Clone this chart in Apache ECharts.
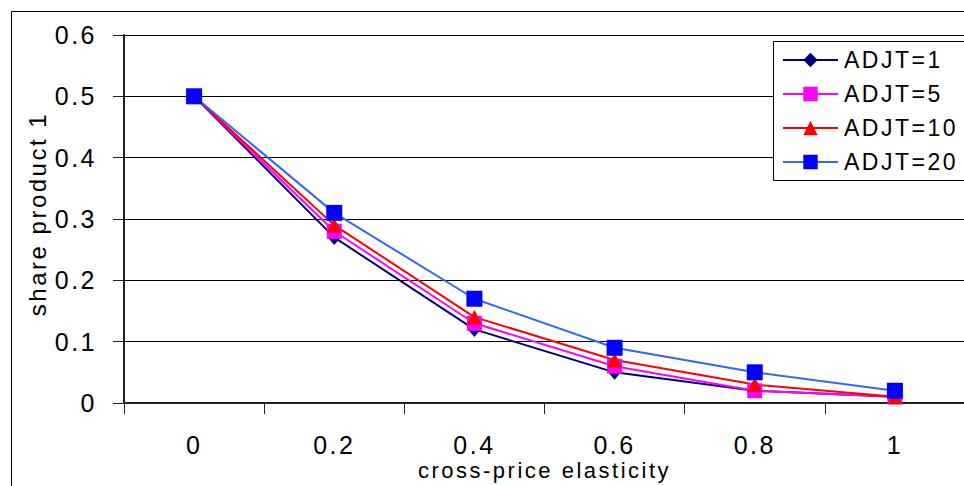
<!DOCTYPE html>
<html>
<head>
<meta charset="utf-8">
<script src="https://cdn.jsdelivr.net/npm/echarts@6/dist/echarts.min.js"></script>
<style>
  html, body { margin: 0; padding: 0; background: #fff; overflow: hidden; }
  #chart { width: 964px; height: 486px; }
  /* spread-out lettering of the spreadsheet-style labels */
  #chart text { letter-spacing: 2.5px; }
</style>
</head>
<body>
<div id="chart"></div>
<script>
// Cross-price elasticity values on the category axis
const elasticity = ['0', '0.2', '0.4', '0.6', '0.8', '1'];

// Share of product 1 for each adjustment setting
const adjt1  = [0.5, 0.27, 0.12, 0.05, 0.02, 0.01];
const adjt5  = [0.5, 0.28, 0.13, 0.06, 0.02, 0.01];
const adjt10 = [0.5, 0.29, 0.14, 0.07, 0.03, 0.01];
const adjt20 = [0.5, 0.31, 0.17, 0.09, 0.05, 0.02];

const seriesNames = ['ADJT=1', 'ADJT=5', 'ADJT=10', 'ADJT=20'];

const FONT = "'Liberation Sans', Arial, sans-serif";

const chart = echarts.init(document.getElementById('chart'), null, { renderer: 'svg' });

function makeSeries(name, data, symbol, size, lineColor, markColor) {
  return {
    name: name,
    type: 'line',
    data: data,
    symbol: symbol,
    symbolSize: size,
    showAllSymbol: true,
    lineStyle: { color: lineColor, width: 2 },
    itemStyle: { color: markColor },
    emphasis: { disabled: true },
    animation: false
  };
}

chart.setOption({
  backgroundColor: '#ffffff',
  animation: false,
  graphic: {
    elements: [
      {
        // outer chart frame: left and top sides, the rest runs off the page
        type: 'polyline',
        shape: { points: [[11.5, 1000], [11.5, 11.5], [1100, 11.5]] },
        style: { fill: null, stroke: '#000', lineWidth: 1 },
        silent: true,
        z: -10
      },
      {
        // legend panel background
        type: 'rect',
        shape: { x: 773.5, y: 41.5, width: 300, height: 139 },
        style: { fill: '#ffffff', stroke: null },
        silent: true,
        z: 3
      },
      {
        // legend panel outline, open to the right edge
        type: 'polyline',
        shape: { points: [[1100, 41.5], [773.5, 41.5], [773.5, 180.5], [1100, 180.5]] },
        style: { fill: null, stroke: '#000', lineWidth: 1 },
        silent: true,
        z: 3
      }
    ]
  },
  grid: { left: 124, top: 35, right: -1, bottom: 83, outerBoundsMode: 'none', containLabel: false },
  legend: {
    orient: 'vertical',
    left: 773,
    top: 42,
    padding: [6, 10, 6, 9],
    itemGap: 10,
    itemWidth: 55,
    itemHeight: 18,
    z: 5,
    borderWidth: 0,
    backgroundColor: 'transparent',
    textStyle: { fontFamily: FONT, fontSize: 23, color: '#000', lineHeight: 24, padding: [0, 0, 0, 1] },
    data: seriesNames
  },
  xAxis: {
    type: 'category',
    data: elasticity,
    boundaryGap: true,
    name: 'cross-price elasticity',
    nameLocation: 'middle',
    nameGap: 57,
    nameMoveOverlap: false,
    nameTextStyle: { fontFamily: FONT, fontSize: 22, color: '#000', lineHeight: 20 },
    axisLine: { show: true, lineStyle: { color: '#222', width: 2 } },
    axisTick: { show: true, length: 11, lineStyle: { color: '#222', width: 1 } },
    axisLabel: { fontFamily: FONT, fontSize: 25, color: '#000', margin: 31, lineHeight: 22 },
    splitLine: { show: false }
  },
  yAxis: {
    type: 'value',
    min: 0,
    max: 0.6,
    interval: 0.1,
    name: 'share product 1',
    nameLocation: 'middle',
    nameGap: 75,
    nameMoveOverlap: false,
    nameTextStyle: { fontFamily: FONT, fontSize: 24, color: '#000', padding: [0, 0, 0, 10] },
    axisLine: { show: true, lineStyle: { color: '#222', width: 2 } },
    axisTick: { show: true, length: 11, lineStyle: { color: '#222', width: 1 } },
    axisLabel: {
      fontFamily: FONT, fontSize: 25, color: '#000', margin: 27,
      formatter: v => String(Math.round(v * 10) / 10)
    },
    splitLine: { show: true, lineStyle: { color: '#000', width: 1 } }
  },
  series: [
    makeSeries('ADJT=1', adjt1, 'diamond', [13, 15], '#000080', '#000080'),
    makeSeries('ADJT=5', adjt5, 'rect', 15, '#ff00ff', '#ff00ff'),
    makeSeries('ADJT=10', adjt10, 'triangle', 15, '#ff0000', '#ff0000'),
    makeSeries('ADJT=20', adjt20, 'rect', 16, '#3366ff', '#0000ff')
  ]
});
</script>
</body>
</html>
